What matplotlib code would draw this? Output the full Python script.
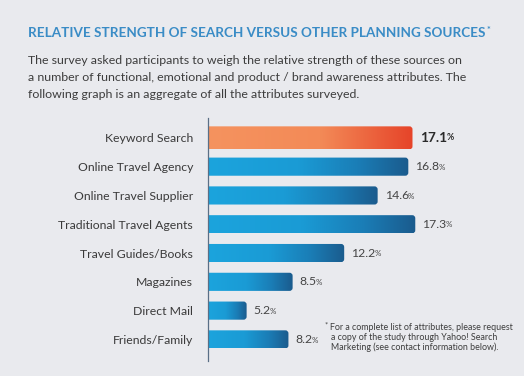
import numpy as np
import matplotlib
matplotlib.use("Agg")
import matplotlib.pyplot as plt
from matplotlib.patches import FancyBboxPatch
from matplotlib.colors import LinearSegmentedColormap

categories = ["Keyword Search", "Online Travel Agency", "Online Travel Supplier",
              "Traditional Travel Agents", "Travel Guides/Books", "Magazines",
              "Direct Mail", "Friends/Family"]
values = [17.1, 16.8, 14.6, 17.3, 12.2, 8.5, 5.2, 8.2]
value_labels = ["17.1", "16.8", "14.6", "17.3", "12.2", "8.5", "5.2", "8.2"]

title = "RELATIVE STRENGTH OF SEARCH VERSUS OTHER PLANNING SOURCES"
body = ["The survey asked participants to weigh the relative strength of these sources on",
        "a number of functional, emotional and product / brand awareness attributes. The",
        "following graph is an aggregate of all the attributes surveyed."]
footnote = ["For a complete list of attributes, please request",
            "a copy of the study through Yahoo! Search",
            "Marketing (see contact information below)."]

W, H = 524, 376
BG = "#e9eaee"
FONT = "Lato"
plt.rcParams['font.family'] = [FONT, 'DejaVu Sans']

fig = plt.figure(figsize=(W / 100, H / 100), dpi=100, facecolor=BG)

def fx(px):
    return px / W

def fy(py):
    return 1 - py / H

# Title and body
tt = fig.text(fx(28), fy(33), title, color="#3a8cc6", fontsize=9.75, fontweight="bold",
              va="center", ha="left")
for i, line in enumerate(body):
    fig.text(fx(28), fy(61 + i * 16.5), line, color="#3d3d3d", fontsize=8.9,
             va="center", ha="left")

# Axes
ax_left, ax_right, ax_top, ax_bottom = 208, 524, 118, 361
ax = fig.add_axes([fx(ax_left), fy(ax_bottom), fx(ax_right - ax_left),
                   (ax_bottom - ax_top) / H])
ax.set_facecolor("none")

ax.annotate("*", xy=(1, 1), xycoords=tt, xytext=(0.8, 0.5),
            textcoords="offset points", va="top", ha="left",
            fontsize=6.5, fontweight="bold", color="#3a8cc6",
            annotation_clip=False)

xmin, xmax = 2.43, 25.1
ymin, ymax = 7.75, -0.69
n = len(categories)
ypos = np.arange(n)
heights = [0.8] + [0.63] * (n - 1)

blue_cmap = LinearSegmentedColormap.from_list(
    "b", [(0, "#1ca4dd"), (0.45, "#1a9bd5"), (0.75, "#1a7db6"), (1.0, "#1b5b8d")])
orange_cmap = LinearSegmentedColormap.from_list(
    "o", [(0, "#f5935f"), (0.55, "#f38a57"), (1.0, "#e64429")])

bars = ax.barh(ypos, values, height=heights, color="none", edgecolor="none")
grad = np.linspace(0, 1, 256).reshape(1, -1)
rx = 0.22
for i, (b, v) in enumerate(zip(bars, values)):
    y0 = b.get_y()
    h = b.get_height()
    patch = FancyBboxPatch((-1, y0), v + 1, h,
                           boxstyle=f"round,pad=0,rounding_size={rx}",
                           mutation_aspect=0.48, facecolor="none", edgecolor="none",
                           transform=ax.transData)
    ax.add_patch(patch)
    cmap = orange_cmap if i == 0 else blue_cmap
    im = ax.imshow(grad, cmap=cmap, aspect="auto", extent=[xmin, v, y0 + h, y0],
                   interpolation="bilinear", zorder=2)
    im.set_clip_path(patch)

ax.set_xlim(xmin, xmax)
ax.set_ylim(ymin, ymax)

# value labels
for i, (v, lab) in enumerate(zip(values, value_labels)):
    if i == 0:
        t = ax.annotate(lab, xy=(v, ypos[i]), xytext=(5.5, 0), textcoords="offset points",
                        va="center", ha="left", fontsize=9.8, fontweight="bold",
                        color="#2a2a2a")
        ax.annotate("%", xy=(1, 0.12), xycoords=t, xytext=(-0.6, 0),
                    textcoords="offset points", va="bottom", ha="left",
                    fontsize=6.3, color="#2a2a2a", fontweight="bold")
    else:
        t = ax.annotate(lab, xy=(v, ypos[i]), xytext=(5, 0), textcoords="offset points",
                        va="center", ha="left", fontsize=8.8, color="#454545")
        ax.annotate("%", xy=(1, 0.12), xycoords=t, xytext=(-0.6, 0),
                    textcoords="offset points", va="bottom", ha="left",
                    fontsize=5.8, color="#454545")

ax.set_yticks(ypos)
ax.set_yticklabels(categories, fontsize=8.8, color="#3a3a3a")
ax.tick_params(axis="y", length=0, pad=10.8)
ax.set_xticks([])
for s in ["top", "right", "bottom"]:
    ax.spines[s].set_visible(False)
ax.spines["left"].set_color("#5a6f86")
ax.spines["left"].set_linewidth(0.9)

# footnote
fig.text(fx(325), fy(325), "*", color="#3d3d3d", fontsize=5.5, va="center", ha="left")
for i, line in enumerate(footnote):
    fig.text(fx(330 if i == 0 else 331), fy(327 + i * 10), line, color="#3d3d3d",
             fontsize=6.4, va="center", ha="left")

fig.savefig("out.png", dpi=100, facecolor=BG)
